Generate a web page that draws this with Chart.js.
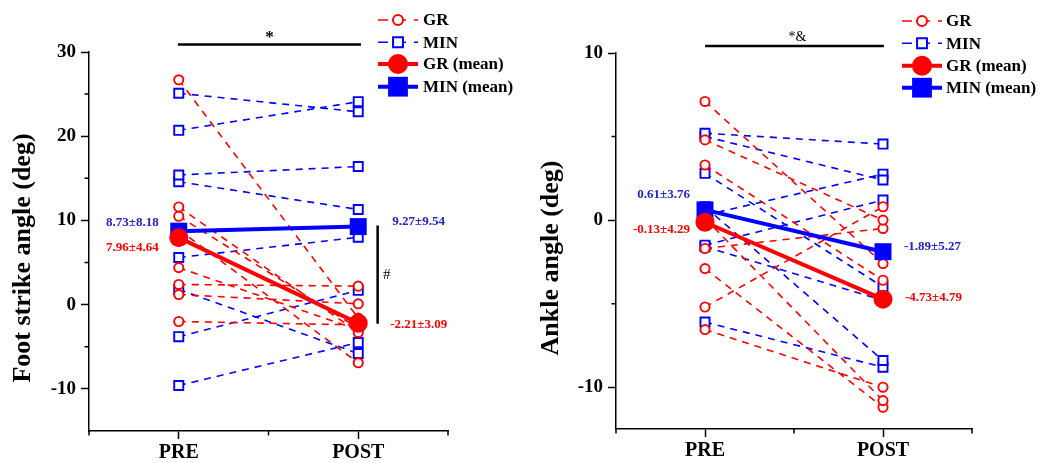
<!DOCTYPE html>
<html>
<head>
<meta charset="utf-8">
<script src="https://cdn.jsdelivr.net/npm/chart.js@4.4.1/dist/chart.umd.min.js"></script>
<style>
html, body { margin: 0; padding: 0; background: #fff; }
#wrap { position: relative; width: 1040px; height: 463px; }
.panel { position: absolute; top: 0; width: 520px; height: 463px; }
</style>
</head>
<body>
<div id="wrap">
  <div class="panel" style="left:0"><canvas id="footChart" width="520" height="463"></canvas></div>
  <div class="panel" style="left:520px"><canvas id="ankleChart" width="520" height="463"></canvas></div>
</div>
<script>
// categories on the x axis (PRE = 1, POST = 2)
const phases = ['PRE', 'POST'];

// foot strike angle (deg), one value per subject
const footGrPre   = [26.7, 11.6, 10.5, 8.9, 4.4, 2.4, 1.2, -2.0];
const footGrPost  = [-1.6, -3.3, -2.8, -6.9, -3.0, 2.2, 0.1, -2.4];
const footMinPre  = [25.1, 20.7, 15.4, 14.6, 5.6, 1.8, -3.8, -9.6];
const footMinPost = [22.9, 24.1, 16.4, 11.3, 8.0, -5.8, 1.7, -4.5];
const footGrMean  = [7.96, -2.21];
const footGrSd    = [4.64, 3.09];
const footMinMean = [8.73, 9.27];
const footMinSd   = [8.18, 9.54];
const footTicks   = [-10, 0, 10, 20, 30];

// ankle angle (deg)
const ankleGrPre   = [7.1, 4.8, 3.3, 0.1, -1.7, -2.9, -5.2, -6.55];
const ankleGrPost  = [-2.6, 0.0, -3.6, -10.8, -0.5, -11.2, 0.8, -10.0];
const ankleMinPre  = [5.2, 5.0, 2.8, 0.8, 0.3, -1.5, -1.6, -6.1];
const ankleMinPost = [4.55, 2.4, -4.0, -8.4, 2.75, 1.2, -4.8, -8.8];
const ankleGrMean  = [-0.13, -4.73];
const ankleGrSd    = [4.29, 4.79];
const ankleMinMean = [0.61, -1.89];
const ankleMinSd   = [3.76, 5.27];
const ankleTicks   = [-10, 0, 10];

const RED = '#ff0000';
const BLUE = '#0000ff';
const LBL_BLUE = '#2323c8';
const SERIF = "'Liberation Serif', 'Times New Roman', serif";

Chart.defaults.color = '#000';
Chart.defaults.font.family = SERIF;

const toPoints = vals => vals.map((v, i) => ({ x: i + 1, y: v }));

function subjectLines(pre, post, color, style) {
    return pre.map((v, i) => ({
        label: '',
        data: toPoints([v, post[i]]),
        borderColor: color,
        borderWidth: 1.6,
        borderDash: [7, 6],
        pointStyle: style,
        pointRadius: style === 'rect' ? 6.4 : 4.6,
        pointBorderWidth: 1.9,
        pointBorderColor: color,
        pointBackgroundColor: '#fff',
        order: 3,
        clip: false
    }));
}

function meanLine(vals, color, style, order) {
    return {
        label: '',
        data: toPoints(vals),
        borderColor: color,
        borderWidth: 4,
        pointStyle: style,
        pointRadius: style === 'rect' ? 12 : 9.5,
        pointBorderWidth: 0,
        pointBackgroundColor: color,
        order: order,
        clip: false
    };
}

const fmt = (m, s) => m.toFixed(2) + '\u00b1' + s.toFixed(2);

// titles, minor ticks, significance bars, mean labels, legend
const decor = {
    id: 'decor',
    afterDraw(chart, args, o) {
        const { ctx, chartArea } = chart;
        const xs = chart.scales.x, ys = chart.scales.y;
        ctx.save();

        // short minor ticks
        ctx.strokeStyle = '#000';
        ctx.lineWidth = 1.5;
        ctx.beginPath();
        o.minorX.forEach(v => {
            const x = xs.getPixelForValue(v);
            ctx.moveTo(x, chartArea.bottom);
            ctx.lineTo(x, chartArea.bottom + 4.5);
        });
        o.minorY.forEach(v => {
            const y = ys.getPixelForValue(v);
            ctx.moveTo(chartArea.left, y);
            ctx.lineTo(chartArea.left - 4.5, y);
        });
        ctx.stroke();

        // y title
        ctx.save();
        ctx.translate(o.title.x, o.title.y);
        ctx.rotate(-Math.PI / 2);
        ctx.font = 'bold 26px ' + SERIF;
        ctx.fillStyle = '#000';
        ctx.textAlign = 'center';
        ctx.textBaseline = 'middle';
        ctx.fillText(o.title.text, 0, 0);
        ctx.restore();

        // significance bars
        ctx.strokeStyle = '#000';
        ctx.fillStyle = '#000';
        ctx.lineWidth = 2.5;
        ctx.textAlign = 'center';
        ctx.textBaseline = 'middle';
        o.bars.forEach(b => {
            ctx.beginPath();
            if (b.dir === 'h') {
                const y = ys.getPixelForValue(b.y);
                ctx.moveTo(xs.getPixelForValue(b.x0), y);
                ctx.lineTo(xs.getPixelForValue(b.x1), y);
                ctx.stroke();
                ctx.font = b.font;
                ctx.fillText(b.text, xs.getPixelForValue((b.x0 + b.x1) / 2) + (b.tdx || 0), y + b.tdy);
            } else {
                const x = xs.getPixelForValue(b.x);
                const y0 = ys.getPixelForValue(b.y0), y1 = ys.getPixelForValue(b.y1);
                ctx.moveTo(x, y0);
                ctx.lineTo(x, y1);
                ctx.stroke();
                ctx.font = b.font;
                ctx.fillText(b.text, x + b.tdx, (y0 + y1) / 2);
            }
        });

        // mean +- sd labels
        ctx.font = 'bold 13px ' + SERIF;
        o.labels.forEach(l => {
            ctx.fillStyle = l.color;
            ctx.textAlign = l.align;
            ctx.fillText(l.text, xs.getPixelForValue(l.x) + l.dx, ys.getPixelForValue(l.y) + l.dy);
        });

        // legend
        const lg = o.legend;
        ctx.font = 'bold 17px ' + SERIF;
        ctx.textAlign = 'left';
        lg.items.forEach((it, i) => {
            const y = lg.ys[i];
            ctx.strokeStyle = it.color;
            ctx.lineWidth = it.dashed ? 1.6 : 4;
            ctx.setLineDash(it.dashed ? [10, 8] : []);
            ctx.beginPath();
            ctx.moveTo(lg.x0, y);
            ctx.lineTo(lg.x1, y);
            ctx.stroke();
            ctx.setLineDash([]);
            ctx.fillStyle = it.dashed ? '#fff' : it.color;
            ctx.strokeStyle = it.color;
            ctx.lineWidth = 2;
            Chart.helpers.drawPoint(ctx, {
                pointStyle: it.style, radius: it.radius, borderWidth: it.dashed ? 2 : 0, rotation: 0
            }, (lg.x0 + lg.x1) / 2, y);
            ctx.fillStyle = '#000';
            ctx.fillText(it.text, lg.tx, y + 1);
        });

        ctx.restore();
    }
};

const legendItems = [
    { text: 'GR', color: RED, dashed: true, style: 'circle', radius: 5 },
    { text: 'MIN', color: BLUE, dashed: true, style: 'rect', radius: 7 },
    { text: 'GR (mean)', color: RED, dashed: false, style: 'circle', radius: 10 },
    { text: 'MIN (mean)', color: BLUE, dashed: false, style: 'rect', radius: 14 }
];

function makeChart(id, p) {
    const datasets = [
        meanLine(p.grMean, RED, 'circle', 0),
        meanLine(p.minMean, BLUE, 'rect', 1),
        ...subjectLines(p.grPre, p.grPost, RED, 'circle'),
        ...subjectLines(p.minPre, p.minPost, BLUE, 'rect')
    ];
    const minorY = [];
    for (let v = p.yTicks[0] - 5; v <= p.yTicks[p.yTicks.length - 1]; v += 10) {
        if (v > p.yMin) minorY.push(v);
    }
    return new Chart(document.getElementById(id), {
        type: 'line',
        data: { datasets },
        plugins: [decor],
        options: {
            responsive: false,
            animation: false,
            events: [],
            layout: { padding: p.padding },
            scales: {
                x: {
                    type: 'linear',
                    min: 0.5,
                    max: 2.5,
                    afterBuildTicks: s => { s.ticks = [1, 2].map(v => ({ value: v })); },
                    afterFit: s => { s.height = p.xHeight; },
                    grid: { drawOnChartArea: false, drawTicks: true, tickLength: 8, tickColor: '#000', tickWidth: 1.5 },
                    border: { display: true, color: '#000', width: 1.5 },
                    ticks: {
                        autoSkip: false,
                        maxRotation: 0,
                        padding: 2,
                        font: { size: 20, weight: 'bold' },
                        callback: v => phases[v - 1]
                    }
                },
                y: {
                    min: p.yMin,
                    max: p.yMax,
                    afterBuildTicks: s => { s.ticks = p.yTicks.map(v => ({ value: v })); },
                    afterFit: s => { s.width = p.yWidth; },
                    grid: { drawOnChartArea: false, drawTicks: true, tickLength: 8, tickColor: '#000', tickWidth: 1.5 },
                    border: { display: true, color: '#000', width: 1.5 },
                    ticks: {
                        padding: 5,
                        font: { size: 19, weight: 'bold' },
                        callback: v => String(v)
                    }
                }
            },
            plugins: {
                legend: { display: false },
                tooltip: { enabled: false },
                decor: {
                    title: p.title,
                    minorX: [0.5, 1.5, 2.5],
                    minorY: minorY,
                    bars: p.bars,
                    labels: p.labels,
                    legend: { items: legendItems, ...p.legend }
                }
            }
        }
    });
}

makeChart('footChart', {
    grPre: footGrPre, grPost: footGrPost, minPre: footMinPre, minPost: footMinPost,
    grMean: footGrMean, minMean: footMinMean,
    yMin: -15, yMax: 30, yTicks: footTicks,
    padding: { top: 52, right: 72, bottom: 0, left: 0 },
    yWidth: 89, xHeight: 32,
    title: { text: 'Foot strike angle (deg)', x: 23, y: 258 },
    bars: [
        { dir: 'h', x0: 0.995, x1: 2.015, y: 30.9, text: '*', tdy: -7, font: 'bold 17px ' + SERIF },
        { dir: 'v', x: 2.108, y0: 9.4, y1: -2.26, text: '#', tdx: 9, font: '15px ' + SERIF }
    ],
    labels: [
        { text: fmt(footMinMean[0], footMinSd[0]), color: LBL_BLUE, x: 1, y: footMinMean[0], dx: -20, dy: -9, align: 'right' },
        { text: fmt(footGrMean[0], footGrSd[0]), color: RED, x: 1, y: footGrMean[0], dx: -20, dy: 10, align: 'right' },
        { text: fmt(footMinMean[1], footMinSd[1]), color: LBL_BLUE, x: 2, y: footMinMean[1], dx: 34, dy: -5, align: 'left' },
        { text: fmt(footGrMean[1], footGrSd[1]), color: RED, x: 2, y: footGrMean[1], dx: 32, dy: 1, align: 'left' }
    ],
    legend: { x0: 378, x1: 418, tx: 423, ys: [20, 42.3, 64, 86.7] }
});

makeChart('ankleChart', {
    grPre: ankleGrPre, grPost: ankleGrPost, minPre: ankleMinPre, minPost: ankleMinPost,
    grMean: ankleGrMean, minMean: ankleMinMean,
    yMin: -12.5, yMax: 10, yTicks: ankleTicks,
    padding: { top: 53, right: 68, bottom: 0, left: 0 },
    yWidth: 96, xHeight: 34,
    title: { text: 'Ankle angle (deg)', x: 31, y: 258 },
    bars: [
        { dir: 'h', x0: 1, x1: 2.005, y: 10.42, text: '*&', tdx: 3, tdy: -9, font: '14px ' + SERIF }
    ],
    labels: [
        { text: fmt(ankleMinMean[0], ankleMinSd[0]), color: LBL_BLUE, x: 1, y: ankleMinMean[0], dx: -15, dy: -15, align: 'right' },
        { text: fmt(ankleGrMean[0], ankleGrSd[0]), color: RED, x: 1, y: ankleGrMean[0], dx: -15, dy: 7, align: 'right' },
        { text: fmt(ankleMinMean[1], ankleMinSd[1]), color: LBL_BLUE, x: 2, y: ankleMinMean[1], dx: 21, dy: -5, align: 'left' },
        { text: fmt(ankleGrMean[1], ankleGrSd[1]), color: RED, x: 2, y: ankleGrMean[1], dx: 22, dy: -2, align: 'left' }
    ],
    legend: { x0: 382, x1: 422, tx: 426, ys: [21, 43.3, 65.7, 87.7] }
});
</script>
</body>
</html>
